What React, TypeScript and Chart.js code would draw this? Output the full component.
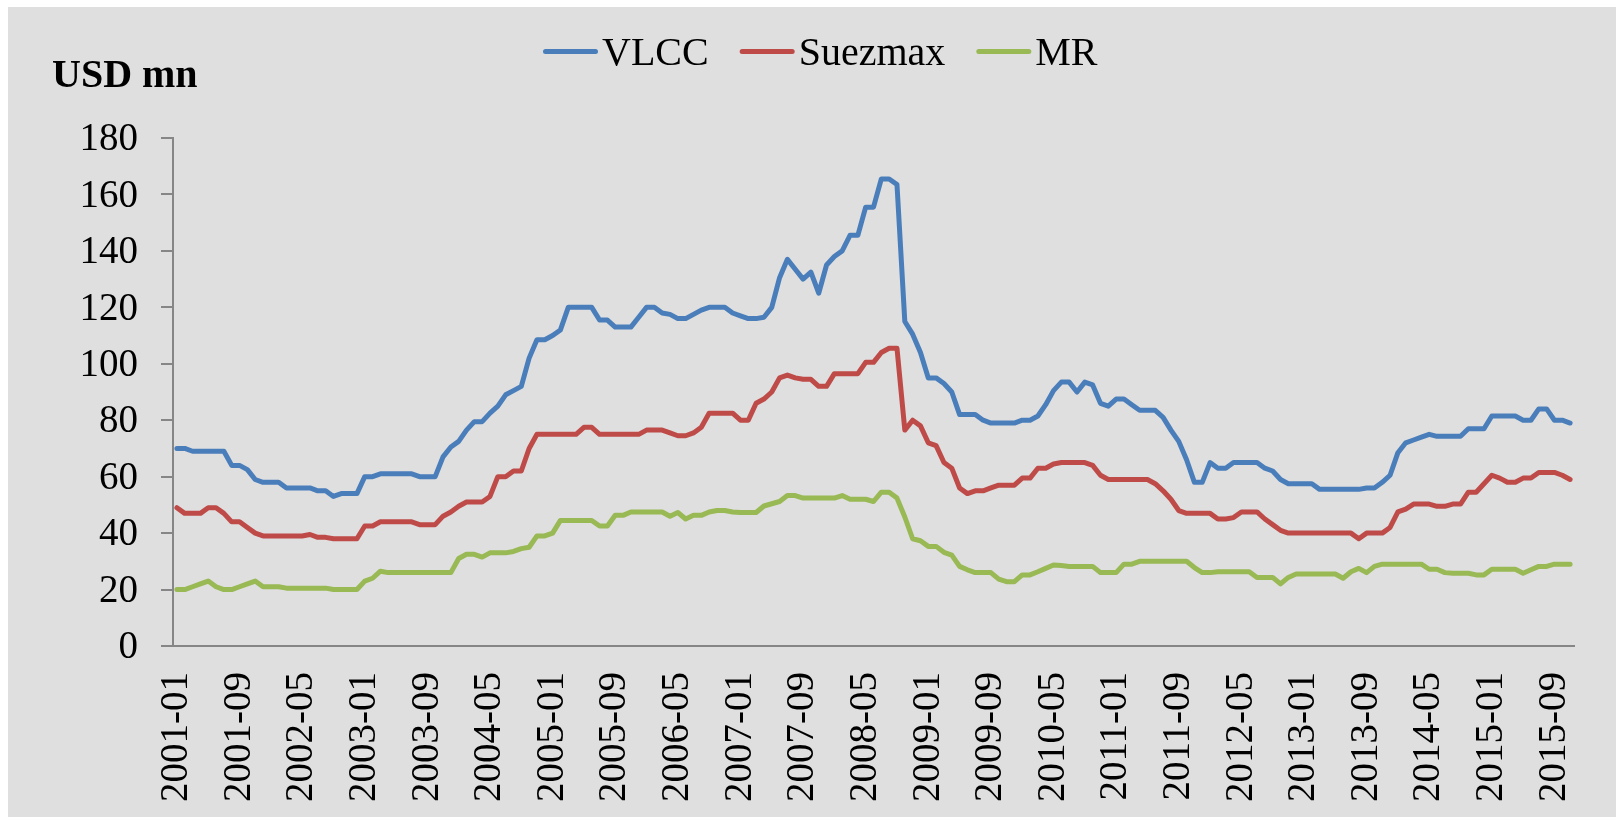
import React, { useEffect, useRef } from 'react';
import { Chart, registerables } from 'chart.js';

Chart.register(...registerables);

// ---- data -------------------------------------------------------------
const FIRST_YEAR = 2001;
const LAST_YEAR = 2015;
const LAST_MONTH = 11;

const MONTHS: string[] = [];
for (let y = FIRST_YEAR; y <= LAST_YEAR; y++) {
  for (let m = 1; m <= 12; m++) {
    if (y === LAST_YEAR && m > LAST_MONTH) break;
    MONTHS.push(`${y}-${String(m).padStart(2, '0')}`);
  }
}

const LABEL_EVERY = 8;

const VLCC: number[] = [
  70, 70, 69, 69, 69, 69, 69, 64, 64, 62.5,
  59, 58, 58, 58, 56, 56, 56, 56, 55, 55,
  53, 54, 54, 54, 60, 60, 61, 61, 61, 61,
  61, 60, 60, 60, 67, 70.5, 72.5, 76.5, 79.5, 79.5,
  82.5, 85, 89, 90.5, 92, 102, 108.5, 108.5, 110, 112,
  120, 120, 120, 120, 115.5, 115.5, 113, 113, 113, 116.5,
  120, 120, 118, 117.5, 116, 116, 117.5, 119, 120, 120,
  120, 118, 117, 116, 116, 116.5, 120, 130.5, 137, 133.5,
  130, 132.5, 125, 135, 138, 140, 145.5, 145.5, 155.5, 155.5,
  165.5, 165.5, 163.5, 115, 110.5, 104, 95, 95, 93, 90,
  82, 82, 82, 80, 79, 79, 79, 79, 80, 80,
  81.5, 85.5, 90.5, 93.5, 93.5, 90, 93.5, 92.5, 86, 85,
  87.5, 87.5, 85.5, 83.5, 83.5, 83.5, 81, 76.5, 72.5, 66,
  58, 58, 65, 63, 63, 65, 65, 65, 65, 63,
  62, 59, 57.5, 57.5, 57.5, 57.5, 55.5, 55.5, 55.5, 55.5,
  55.5, 55.5, 56, 56, 58, 60.5, 68.5, 72, 73, 74,
  75, 74.3, 74.3, 74.3, 74.3, 77, 77, 77, 81.5, 81.5,
  81.5, 81.5, 80, 80, 84, 84, 80, 80, 79,
];

const SUEZMAX: number[] = [
  49, 47, 47, 47, 49, 49, 47, 44, 44, 42,
  40, 39, 39, 39, 39, 39, 39, 39.5, 38.5, 38.5,
  38, 38, 38, 38, 42.5, 42.5, 44, 44, 44, 44,
  44, 43, 43, 43, 46, 47.5, 49.5, 51, 51, 51,
  53, 60, 60, 62, 62, 70, 75, 75, 75, 75,
  75, 75, 77.5, 77.5, 75, 75, 75, 75, 75, 75,
  76.5, 76.5, 76.5, 75.5, 74.5, 74.5, 75.5, 77.5, 82.5, 82.5,
  82.5, 82.5, 80, 80, 86, 87.5, 90, 95, 96, 95,
  94.5, 94.5, 92, 92, 96.5, 96.5, 96.5, 96.5, 100.5, 100.5,
  104, 105.5, 105.5, 76.5, 80, 78, 72, 71, 65, 63,
  56, 54, 55, 55, 56, 57, 57, 57, 59.5, 59.5,
  63, 63, 64.5, 65, 65, 65, 65, 64, 60.5, 59,
  59, 59, 59, 59, 59, 57.5, 55, 52, 48, 47,
  47, 47, 47, 45, 45, 45.5, 47.5, 47.5, 47.5, 45,
  43, 41, 40, 40, 40, 40, 40, 40, 40, 40,
  40, 38, 40, 40, 40, 42, 47.5, 48.5, 50.3, 50.3,
  50.3, 49.5, 49.5, 50.3, 50.3, 54.5, 54.5, 57.5, 60.5, 59.5,
  58, 58, 59.5, 59.5, 61.5, 61.5, 61.5, 60.5, 59,
];

const MR: number[] = [
  20, 20, 21, 22, 23, 21, 20, 20, 21, 22,
  23, 21, 21, 21, 20.5, 20.5, 20.5, 20.5, 20.5, 20.5,
  20, 20, 20, 20, 23, 24, 26.5, 26, 26, 26,
  26, 26, 26, 26, 26, 26, 31, 32.5, 32.5, 31.5,
  33, 33, 33, 33.5, 34.5, 35, 39, 39, 40, 44.5,
  44.5, 44.5, 44.5, 44.5, 42.5, 42.5, 46.3, 46.3, 47.5, 47.5,
  47.5, 47.5, 47.5, 46, 47.3, 45, 46.3, 46.3, 47.5, 48,
  48, 47.5, 47.3, 47.3, 47.3, 49.6, 50.4, 51.2, 53.3, 53.3,
  52.4, 52.4, 52.4, 52.4, 52.4, 53.3, 52, 52, 52, 51.2,
  54.5, 54.5, 52.4, 45.7, 38, 37.3, 35.3, 35.3, 33.2, 32.2,
  28.2, 27, 26, 26, 26, 23.7, 22.8, 22.8, 25.2, 25.2,
  26.3, 27.5, 28.7, 28.5, 28.2, 28.2, 28.2, 28.2, 26, 26,
  26, 29, 29, 30, 30, 30, 30, 30, 30, 30,
  27.8, 26, 26, 26.3, 26.3, 26.3, 26.3, 26.3, 24.3, 24.3,
  24.3, 22, 24.3, 25.5, 25.5, 25.5, 25.5, 25.5, 25.5, 24,
  26.3, 27.5, 26, 28.2, 29, 29, 29, 29, 29, 29,
  27.2, 27.2, 26, 25.8, 25.8, 25.8, 25.2, 25.2, 27.2, 27.2,
  27.2, 27.2, 25.8, 27, 28.2, 28.2, 29, 29, 29,
];

const SERIES_NAMES = ['VLCC', 'Suezmax', 'MR'];
const SERIES_COLORS = ['#4A7EBB', '#BE4B48', '#98B954'];
const Y_MIN = 0;
const Y_MAX = 180;
const Y_STEP = 20;
const UNIT_LABEL = 'USD mn';

// ---- styling ------------------------------------------------------------
const FONT = '"Liberation Serif", "Times New Roman", serif';
const AXIS_GREY = '#868686';
const BG = '#dfdfdf';
const W = 1608;
const H = 810;

const overlayPlugin = {
  id: 'overlayText',
  afterDraw(chart: any) {
    const ctx: CanvasRenderingContext2D = chart.ctx;
    ctx.save();
    // unit label
    ctx.fillStyle = '#000';
    ctx.textAlign = 'left';
    ctx.textBaseline = 'alphabetic';
    ctx.font = `bold 40px ${FONT}`;
    ctx.fillText(UNIT_LABEL, 44, 80);

    // legend
    ctx.font = `40px ${FONT}`;
    const lineLen = 55;
    const textGap = 4;
    const itemGap = 31;
    const cy = 44.5;
    let x = 535;
    chart.data.datasets.forEach((ds: any) => {
      ctx.strokeStyle = ds.borderColor;
      ctx.lineWidth = 5;
      ctx.lineCap = 'round';
      ctx.beginPath();
      ctx.moveTo(x + 2.5, cy);
      ctx.lineTo(x + lineLen - 2.5, cy);
      ctx.stroke();
      x += lineLen + textGap;
      ctx.fillStyle = '#000';
      ctx.textBaseline = 'alphabetic';
      ctx.fillText(ds.label, x, cy + 13.2);
      x += ctx.measureText(ds.label).width + itemGap;
    });
    ctx.restore();
  },
};

export default function App() {
  const canvasRef = useRef<HTMLCanvasElement | null>(null);

  useEffect(() => {
    const canvas = canvasRef.current;
    if (!canvas) return;
    const seriesData = [VLCC, SUEZMAX, MR];
    const chart = new Chart(canvas, {
      type: 'line',
      data: {
        labels: MONTHS,
        datasets: SERIES_NAMES.map((name, i) => ({
          label: name,
          data: seriesData[i],
          borderColor: SERIES_COLORS[i],
          backgroundColor: SERIES_COLORS[i],
          borderWidth: 5,
          pointRadius: 0,
          pointHoverRadius: 0,
          tension: 0,
          borderJoinStyle: 'round' as const,
          borderCapStyle: 'round' as const,
          fill: false,
        })),
      },
      options: {
        responsive: false,
        animation: false,
        devicePixelRatio: 1,
        layout: { autoPadding: false, padding: { top: 131, right: 42, bottom: 0, left: 0 } },
        plugins: {
          legend: { display: false },
          tooltip: { enabled: false },
          title: { display: false },
        },
        scales: {
          x: {
            type: 'category',
            offset: true,
            grid: { display: false, drawTicks: false },
            border: { display: true, color: AXIS_GREY, width: 2 },
            ticks: {
              autoSkip: false,
              maxRotation: 90,
              minRotation: 90,
              padding: 26,
              color: '#000',
              font: { family: FONT, size: 39 },
              callback: (_v: any, i: number) => (i % LABEL_EVERY === 0 ? MONTHS[i] : ''),
            },
            afterFit: (s: any) => {
              s.height = 171;
              s.paddingLeft = 0;
              s.paddingRight = 0;
            },
          },
          y: {
            min: Y_MIN,
            max: Y_MAX,
            ticks: {
              stepSize: Y_STEP,
              padding: 23,
              labelOffset: 2,
              color: '#000',
              font: { family: FONT, size: 39 },
            },
            grid: {
              drawOnChartArea: false,
              drawTicks: true,
              tickLength: 12,
              color: AXIS_GREY,
              lineWidth: 2,
            },
            border: { display: true, color: AXIS_GREY, width: 2 },
            afterFit: (s: any) => {
              s.width = 165;
              s.paddingTop = 0;
              s.paddingBottom = 0;
            },
          },
        },
      },
      plugins: [overlayPlugin],
    });
    return () => chart.destroy();
  }, []);

  return (
    <div
      style={{
        position: 'absolute',
        left: 8,
        top: 7,
        width: W,
        height: H,
        background: BG,
        overflow: 'hidden',
      }}
    >
      <canvas ref={canvasRef} width={W} height={H} style={{ display: 'block' }} />
    </div>
  );
}
